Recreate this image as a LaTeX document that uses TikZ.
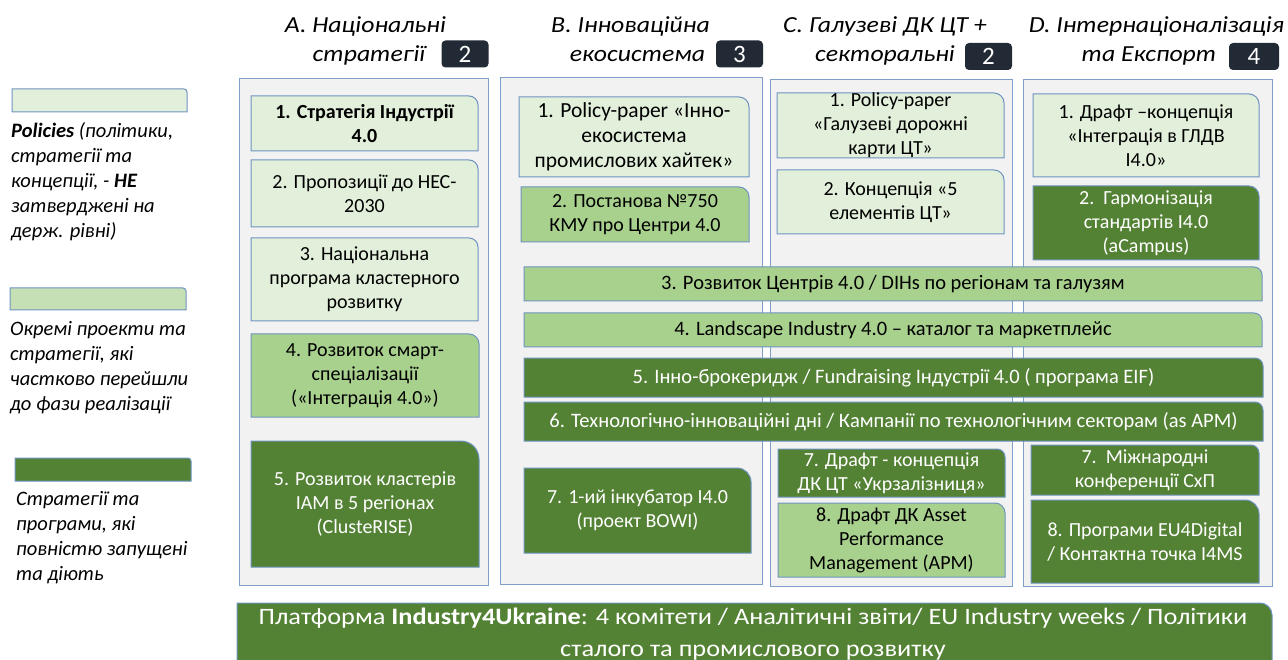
\documentclass[tikz,border=0pt]{standalone}
\usepackage{fontspec}
\setmainfont{Carlito}
\newfontfamily\widef[FakeStretch=1.12]{Carlito}
\definecolor{ltg}{HTML}{E2EFDA}
\definecolor{mdg}{HTML}{A9D18E}
\definecolor{lgm}{HTML}{C5E0B4}
\definecolor{dkg}{HTML}{548235}
\definecolor{bord}{HTML}{6F93C0}
\definecolor{cbord}{HTML}{7F9FC9}
\definecolor{contf}{HTML}{F2F2F2}
\definecolor{navy}{HTML}{222A35}
\newcommand\bxf{\fontsize{20}{24}\selectfont}
\newcommand\bxbf{\fontsize{21.5}{25}\selectfont}
\newcommand\barf{\fontsize{20.5}{24}\selectfont}
\newcommand\ttlf{\widef\fontsize{23}{28}\selectfont\itshape}
\newcommand\lgdf{\fontsize{20.5}{25}\selectfont\itshape}
\newcommand\btmf{\widef\fontsize{23.5}{32}\selectfont}
\newcommand\bdgf{\fontsize{25}{28}\selectfont}
% name, x1, y1, x2, y2, radius, shape style, text style, text
\newcommand\rbox[9]{%
  \path[#7] (#2,#5) -- (#2,#3) -- ({#4-#6},#3) .. controls ({#4-0.448*#6},#3) and (#4,{#3+0.448*#6}) .. (#4,{#3+#6}) -- (#4,#5) -- cycle;
  \node[#8] (#1) at ({(#2+#4)/2},{(#3+#5)/2}) {#9};}
\tikzset{
  lt/.style={fill=ltg,draw=bord,line width=1pt},
  md/.style={fill=mdg,draw=bord,line width=1pt},
  lm/.style={fill=lgm,draw=bord,line width=1pt},
  dk/.style={fill=dkg,draw=bord,line width=1pt},
  bt/.style={font=\bxf,align=center,inner sep=0pt,text=black},
  wt/.style={font=\bxf,align=center,inner sep=0pt,text=white},
  cont/.style={fill=contf,draw=cbord,line width=1pt},
  ttl/.style={font=\ttlf,anchor=base,inner sep=0pt},
  badge/.style={fill=navy,text=white,rounded corners=4pt,font=\bdgf,minimum width=47pt,minimum height=27pt,inner sep=0pt},
  lgd/.style={font=\lgdf,align=left,anchor=north west,inner sep=0pt},
  emp/.style={inner sep=0pt},
}
\begin{document}
\begin{tikzpicture}[x=1pt,y=-1pt]
\useasboundingbox (0,0) rectangle (1288,660);
% titles
\node[ttl] (ta1) at (365.5,33) {A. Національні};
\node[ttl] (ta2) at (369,62) {стратегії};
\node[badge] (ba) at (465,54) {2};
\node[ttl] (tb1) at (630.5,33) {B. Інноваційна};
\node[ttl] (tb2) at (637.5,62) {екосистема};
\node[badge] (bb) at (739.5,54) {3};
\node[ttl] (tc1) at (885,33) {C. Галузеві ДК ЦТ +};
\node[ttl] (tc2) at (885,62) {секторальні};
\node[badge] (bc) at (988.5,56.5) {2};
\node[ttl] (td1) at (1156.5,33) {D. Інтернаціоналізація};
\node[ttl] (td2) at (1149,62) {та Експорт};
\node[badge,minimum width=50pt] (bd) at (1254,56.5) {4};
% legend
\rbox{lg1}{12}{89}{187}{112}{3}{lt}{emp}{}
\node[lgd] (lt1) at (11,122) {\textbf{Policies} (політики,\\стратегії та\\концепції, - \textbf{НЕ}\\затверджені на\\держ. рівні)};
\rbox{lg2}{10}{288}{186}{310}{3}{lm}{emp}{}
\node[lgd] (lt2) at (10,321) {Окремі проекти та\\стратегії, які\\частково перейшли\\до фази реалізації};
\rbox{lg3}{15}{458}{191}{481}{3}{dk}{emp}{}
\node[lgd] (lt3) at (16,491) {Стратегії та\\програми, які\\повністю запущені\\та діють};
% containers
\draw[cont] (239,79) rectangle (488,585);
\draw[cont] (500,78) rectangle (762,584);
\draw[cont] (770,80) rectangle (1012,586);
\draw[cont] (1023,80) rectangle (1272,586);
% column A
\rbox{a1}{251}{96}{478}{151}{9}{lt}{bt,font=\bxf\bfseries}{1. Стратегія Індустрії\\4.0}
\rbox{a2}{251}{160}{478}{227}{9}{lt}{bt}{2. Пропозиції до НЕС-\\2030}
\rbox{a3}{251}{238}{478}{321}{9}{lt}{bt}{3. Національна\\програма кластерного\\розвитку}
\rbox{a4}{251}{334}{479}{417}{10}{md}{bt}{4. Розвиток смарт-\\спеціалізації\\(«Інтеграція 4.0»)}
\rbox{a5}{251}{441}{479}{567}{18}{dk}{wt}{5. Розвиток кластерів\\ІАМ в 5 регіонах\\(ClusteRISE)}
% column B
\rbox{b1}{519}{97}{749}{177}{10}{lt}{bt,font=\bxbf}{1. Policy-paper «Інно-\\екосистема\\промислових хайтек»}
\rbox{b2}{521}{187}{749}{242}{10}{md}{bt}{2. Постанова №750\\КМУ про Центри 4.0}
\rbox{b7}{524}{468}{751}{553}{14}{dk}{wt}{7. 1-ий інкубатор І4.0\\(проект BOWI)}
% column C
\rbox{c1}{777}{93}{1004}{158}{10}{lt}{bt}{1. Policy-paper\\«Галузеві дорожні\\карти ЦТ»}
\rbox{c2}{777}{170}{1004}{234}{10}{lt}{bt}{2. Концепція «5\\елементів ЦТ»}
\rbox{c7}{778}{449}{1005}{497}{8}{dk}{wt}{7. Драфт - концепція\\ДК ЦТ «Укрзалізниця»}
\rbox{c8}{778}{503}{1005}{577}{10}{md}{bt}{8. Драфт ДК Asset\\Performance\\Management (APM)}
% column D
\rbox{d1}{1033}{94}{1259}{177}{10}{lt}{bt}{1. Драфт –концепція\\«Інтеграція в ГЛДВ\\І4.0»}
\rbox{d2}{1033}{186}{1259}{260}{10}{dk}{wt}{2.\ \ Гармонізація\\стандартів І4.0\\(aCampus)}
\rbox{d7}{1031}{445}{1259}{495}{8}{dk}{wt}{7.\ \ Міжнародні\\конференції СхП}
\rbox{d8}{1031}{500}{1259}{583}{14}{dk}{wt}{8. Програми EU4Digital\\/ Контактна точка I4MS}
% wide bars
\rbox{r3}{524}{267}{1262}{301}{8}{md}{bt,font=\barf}{3. Розвиток Центрів 4.0 / DIHs по регіонам та галузям}
\rbox{r4}{524}{313}{1262}{347}{8}{md}{bt,font=\barf}{4. Landscape Industry 4.0 – каталог та маркетплейс}
\rbox{r5}{524}{358}{1263}{397}{8}{dk}{wt,font=\barf}{5. Інно-брокеридж / Fundraising Індустрії 4.0 ( програма EIF)}
\rbox{r6}{524}{402}{1263}{441}{8}{dk}{wt,font=\barf}{6. Технологічно-інноваційні дні / Кампанії по технологічним секторам (as APM)}
% platform bar
\rbox{pl}{237}{603}{1272}{666}{12}{dk}{emp}{}
\node[wt,font=\btmf] (plt) at (753,634) {Платформа \textbf{Industry4Ukraine}: 4 комітети / Аналітичні звіти/ EU Industry weeks / Політики\\сталого та промислового розвитку};
\end{tikzpicture}
\end{document}
